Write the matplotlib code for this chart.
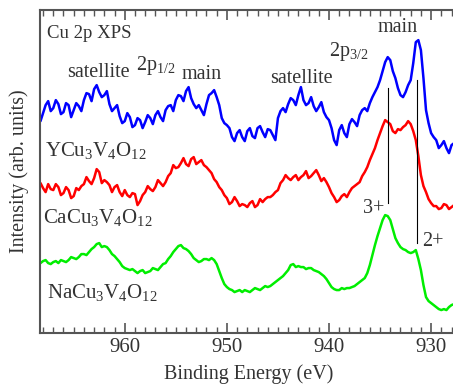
import numpy as np
import matplotlib
matplotlib.use('Agg')
import matplotlib.pyplot as plt
from matplotlib.ticker import MultipleLocator

plt.rcParams['font.family'] = ['Liberation Serif', 'DejaVu Serif']
plt.rcParams['mathtext.fontset'] = 'custom'
plt.rcParams['mathtext.rm'] = 'Liberation Serif'
plt.rcParams['mathtext.it'] = 'Liberation Serif'
plt.rcParams['mathtext.default'] = 'rm'

# binding energy grid (eV), 968.5 -> 927.5 in 0.25 eV steps
energy = 968.5 - 0.25 * np.arange(165)

y_cu = [218, 212, 220, 228, 232, 222, 225, 233, 229, 219,
        221, 230, 228, 216, 223, 230, 227, 222, 233, 240,
        239, 232, 244, 248, 241, 236, 238, 242, 229, 222,
        225, 228, 217, 210, 212, 220, 216, 206, 208, 215,
        213, 205, 211, 218, 215, 209, 218, 222, 216, 212,
        223, 227, 228, 222, 233, 238, 237, 232, 242, 246,
        235, 229, 225, 228, 223, 218, 229, 238, 240, 243,
        236, 228, 215, 210, 208, 205, 196, 192, 200, 203,
        196, 192, 202, 205, 197, 195, 205, 207, 201, 196,
        204, 203, 198, 193, 215, 222, 225, 221, 229, 235,
        233, 228, 238, 246, 233, 228, 230, 236, 227, 222,
        226, 231, 221, 216, 213, 205, 193, 188, 203, 208,
        200, 196, 209, 214, 211, 207, 218, 223, 225, 222,
        230, 236, 241, 246, 253, 262, 271, 276, 273, 262,
        255, 245, 238, 236, 241, 248, 253, 270, 291, 293,
        283, 255, 223, 210, 200, 196, 193, 185, 188, 192,
        185, 180, 188, 190, 188]
ca_cu = [145, 150, 145, 141, 149, 144, 143, 149, 146, 138,
         140, 146, 143, 135, 137, 145, 143, 147, 149, 156,
         152, 149, 155, 164, 161, 150, 153, 151, 148, 141,
         146, 148, 141, 137, 143, 138, 136, 140, 139, 128,
         132, 138, 141, 147, 144, 142, 146, 153, 150, 147,
         151, 157, 160, 168, 165, 166, 170, 175, 169, 167,
         174, 176, 169, 171, 173, 168, 166, 163, 160, 154,
         151, 146, 143, 138, 135, 129, 131, 136, 132, 127,
         129, 128, 126, 130, 132, 126, 128, 134, 131, 134,
         136, 136, 138, 141, 143, 150, 153, 158, 155, 153,
         156, 158, 153, 156, 158, 162, 155, 157, 160, 163,
         158, 152, 155, 151, 146, 140, 136, 131, 133, 137,
         139, 136, 141, 145, 147, 149, 151, 157, 161, 166,
         173, 179, 185, 193, 200, 207, 213, 211, 209, 202,
         200, 204, 203, 206, 208, 212, 209, 202, 193, 177,
         158, 147, 141, 134, 130, 127, 127, 124, 125, 129,
         128, 124, 126, 128, 126]
na_cu = [72, 70, 72, 73, 70, 69, 71, 72, 70, 73,
         72, 71, 73, 76, 75, 74, 76, 79, 79, 78,
         81, 84, 86, 89, 90, 86, 87, 86, 83, 79,
         77, 74, 71, 67, 65, 64, 63, 64, 62, 60,
         62, 63, 60, 61, 62, 65, 64, 63, 66, 69,
         70, 74, 77, 81, 84, 87, 88, 85, 84, 82,
         79, 75, 73, 71, 72, 74, 74, 73, 75, 73,
         69, 62, 55, 49, 46, 44, 43, 41, 42, 43,
         41, 43, 42, 41, 43, 45, 44, 43, 45, 47,
         46, 47, 49, 51, 53, 55, 57, 60, 63, 68,
         69, 66, 67, 66, 66, 64, 65, 65, 63, 62,
         61, 59, 57, 54, 50, 46, 44, 43, 43, 45,
         44, 45, 45, 46, 47, 49, 51, 53, 55, 60,
         68, 78, 88, 97, 105, 113, 118, 117, 113, 104,
         95, 90, 86, 84, 83, 81, 80, 81, 83, 74,
         63, 48, 36, 32, 30, 28, 26, 24, 23, 24,
         23, 26, 28, 29, 28]

fig = plt.figure(figsize=(4.53, 3.90), dpi=100)
ax = fig.add_axes([0.0883, 0.146, 0.922, 0.828])

ax.plot(energy, y_cu, color='#0000ff', lw=1.8)
ax.plot(energy, ca_cu, color='#ff0000', lw=1.8)
ax.plot(energy, na_cu, color='#00ee00', lw=1.8)

# valence markers
ax.plot([934.2, 934.2], [130, 245], color='black', lw=0.8)
ax.plot([931.4, 931.4], [90, 253], color='black', lw=0.8)

tc = '#333333'
fs = 14.5
ax.text(967.6, 300, 'Cu 2p XPS', fontsize=13.5, color=tc, va='center', ha='left')
ax.text(962.6, 261, 'satellite', fontsize=fs, color=tc, va='center', ha='center')
ax.text(957.0, 268, r'2p$_{1/2}$', fontsize=fs, color=tc, va='center', ha='center')
ax.text(952.5, 259, 'main', fontsize=fs, color=tc, va='center', ha='center')
ax.text(942.7, 255, 'satellite', fontsize=fs, color=tc, va='center', ha='center')
ax.text(938.1, 282, r'2p$_{3/2}$', fontsize=fs, color=tc, va='center', ha='center')
ax.text(933.3, 306, 'main', fontsize=fs, color=tc, va='center', ha='center')
ax.text(967.8, 183, r'YCu$_3$V$_4$O$_{12}$', fontsize=15, color=tc, va='center', ha='left')
ax.text(968.0, 116, r'CaCu$_3$V$_4$O$_{12}$', fontsize=15, color=tc, va='center', ha='left')
ax.text(967.6, 41, r'NaCu$_3$V$_4$O$_{12}$', fontsize=15, color=tc, va='center', ha='left')
ax.text(934.6, 125, '3+', fontsize=fs, color=tc, va='center', ha='right')
ax.text(930.9, 92, '2+', fontsize=fs, color=tc, va='center', ha='left')

ax.set_xlim(968.3, 927.4)
ax.set_ylim(0, 323)
ax.set_yticks([])
ax.xaxis.set_major_locator(MultipleLocator(10))
ax.xaxis.set_minor_locator(MultipleLocator(1))
ax.tick_params(axis='x', which='both', direction='in', top=True, bottom=True,
               colors='#555555', labelcolor=tc, labelsize=15)
ax.tick_params(axis='x', which='major', length=7, width=1.2)
ax.tick_params(axis='x', which='minor', length=4, width=1.0)
for s in ax.spines.values():
    s.set_color('#555555')
    s.set_linewidth(1.5)

ax.set_xlabel('Binding Energy (eV)', fontsize=14.5, color=tc, labelpad=5)
ax.set_ylabel('Intensity (arb. units)', fontsize=14.5, color=tc, labelpad=8)

fig.savefig('out.png', dpi=100)
